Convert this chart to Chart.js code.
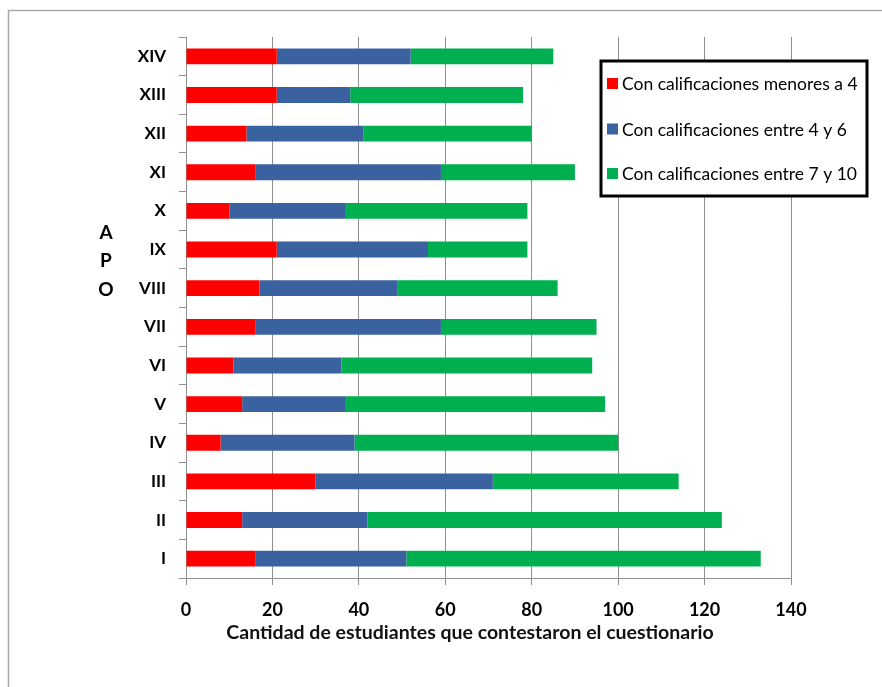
<!DOCTYPE html>
<html lang="es">
<head>
<meta charset="utf-8">
<title>Cantidad de estudiantes por APO</title>
<script src="https://cdn.jsdelivr.net/npm/chart.js@4/dist/chart.umd.min.js"></script>
<style>
  html, body { margin: 0; padding: 0; background: #ffffff; }
  #wrap { width: 882px; height: 687px; }
</style>
</head>
<body>
<div id="wrap"><canvas id="chart" width="882" height="687"></canvas></div>
<script>
// Categorías (APO) y número de estudiantes por rango de calificación
const categories = ['I', 'II', 'III', 'IV', 'V', 'VI', 'VII', 'VIII', 'IX', 'X', 'XI', 'XII', 'XIII', 'XIV'];
const menoresA4   = [16, 13, 30,  8, 13, 11, 16, 17, 21, 10, 16, 14, 21, 21];
const entre4y6    = [35, 29, 41, 31, 24, 25, 43, 32, 35, 27, 43, 27, 17, 31];
const entre7y10   = [82, 82, 43, 61, 60, 58, 36, 37, 23, 42, 31, 39, 40, 33];
const xTicks      = [0, 20, 40, 60, 80, 100, 120, 140];

const seriesNames = [
  'Con calificaciones menores a 4',
  'Con calificaciones entre 4 y 6',
  'Con calificaciones entre 7 y 10'
];
const seriesColors = ['#ff0000', '#3b62a0', '#00b050'];
const yTitleLetters = ['A', 'P', 'O'];
const xTitle = 'Cantidad de estudiantes que contestaron el cuestionario';

const FONT = "Lato, 'Liberation Sans', Arial, sans-serif";

// Marco gris alrededor de toda la figura
const framePlugin = {
  id: 'frame',
  beforeDraw(chart) {
    const ctx = chart.ctx;
    ctx.save();
    ctx.fillStyle = '#ffffff';
    ctx.fillRect(0, 0, chart.width, chart.height);
    ctx.strokeStyle = '#a8a8a8';
    ctx.lineWidth = 1.5;
    ctx.strokeRect(8.5, 10.5, chart.width + 10, chart.height + 10);
    ctx.restore();
  }
};

// Títulos de los ejes: letras apiladas en Y y texto bajo el eje X
const axisTitlesPlugin = {
  id: 'axisTitles',
  afterDraw(chart) {
    const ctx = chart.ctx;
    ctx.save();
    ctx.fillStyle = '#000000';
    ctx.textAlign = 'center';
    ctx.textBaseline = 'middle';
    ctx.font = 'bold 19px ' + FONT;
    const ys = [233, 261, 290];
    yTitleLetters.forEach((ch, i) => ctx.fillText(ch, 106, ys[i]));
    ctx.fillStyle = '#111111';
    ctx.font = 'bold 19.5px ' + FONT;
    ctx.fillText(xTitle, 470, 633);
    ctx.restore();
  }
};

// Leyenda en recuadro con borde negro dentro del área de trazado
const legendBoxPlugin = {
  id: 'legendBox',
  afterDraw(chart) {
    const ctx = chart.ctx;
    const box = { x: 601, y: 61, w: 266, h: 135 };
    ctx.save();
    ctx.fillStyle = '#ffffff';
    ctx.fillRect(box.x, box.y, box.w, box.h);
    ctx.strokeStyle = '#000000';
    ctx.lineWidth = 3;
    ctx.strokeRect(box.x, box.y, box.w, box.h);
    ctx.font = '17.5px ' + FONT;
    ctx.textAlign = 'left';
    ctx.textBaseline = 'middle';
    const rows = [83.5, 129, 173.5];
    chart.data.datasets.forEach((ds, i) => {
      ctx.fillStyle = ds.backgroundColor;
      ctx.fillRect(607, rows[i] - 5.5, 11, 11);
      ctx.fillStyle = '#000000';
      ctx.fillText(ds.label, 622, rows[i] + 1);
    });
    ctx.restore();
  }
};

new Chart(document.getElementById('chart'), {
  type: 'bar',
  data: {
    labels: categories,
    datasets: [
      { label: seriesNames[0], data: menoresA4, backgroundColor: seriesColors[0] },
      { label: seriesNames[1], data: entre4y6,  backgroundColor: seriesColors[1] },
      { label: seriesNames[2], data: entre7y10, backgroundColor: seriesColors[2] }
    ]
  },
  options: {
    indexAxis: 'y',
    responsive: false,
    animation: false,
    events: [],
    layout: { padding: { left: 0, right: 91, top: 37, bottom: 44 } },
    datasets: {
      bar: { categoryPercentage: 1.0, barPercentage: 0.41, borderWidth: 0 }
    },
    plugins: {
      legend: { display: false },
      tooltip: { enabled: false },
      title: { display: false }
    },
    scales: {
      x: {
        stacked: true,
        min: 0,
        max: 140,
        afterBuildTicks(scale) {
          scale.ticks = xTicks.map(v => ({ value: v }));
        },
        afterFit(scale) { scale.height = 65; },
        grid: {
          color: '#8f8f8f',
          lineWidth: 1,
          drawTicks: true,
          tickLength: 7
        },
        border: { display: true, color: '#8f8f8f', width: 1 },
        ticks: {
          color: '#000000',
          padding: 14,
          font: { family: FONT, size: 18, weight: 'bold' }
        },
        title: { display: false }
      },
      y: {
        stacked: true,
        reverse: true,
        afterFit(scale) { scale.width = 186; },
        grid: {
          display: true,
          offset: true,
          drawOnChartArea: false,
          drawTicks: true,
          tickLength: 7,
          color: '#8f8f8f'
        },
        border: { display: true, color: '#8f8f8f', width: 1 },
        ticks: {
          color: '#000000',
          padding: 13,
          font: { family: FONT, size: 17, weight: 'bold' }
        }
      }
    }
  },
  plugins: [framePlugin, axisTitlesPlugin, legendBoxPlugin]
});
</script>
</body>
</html>
